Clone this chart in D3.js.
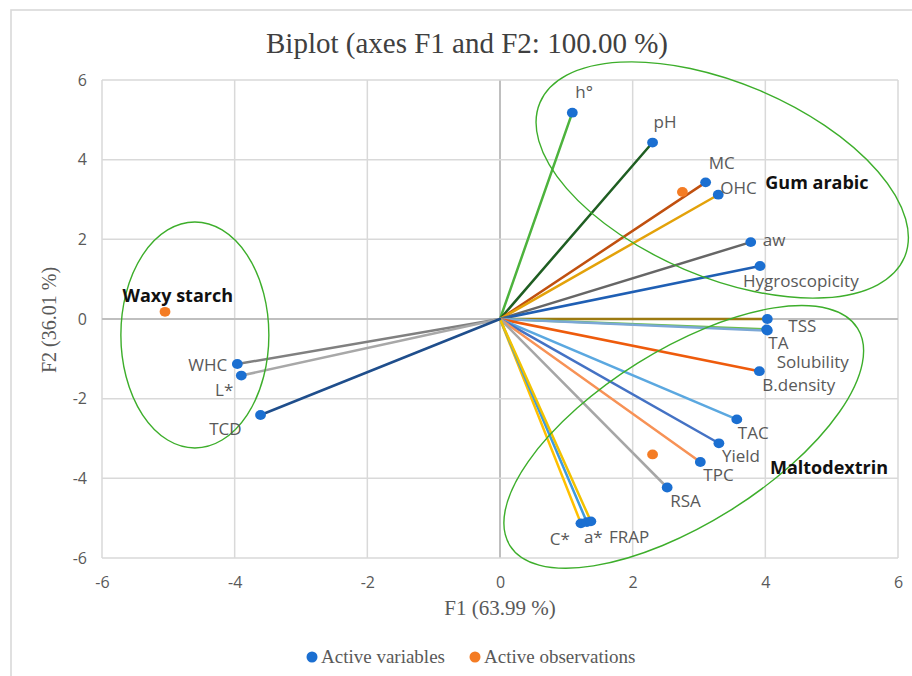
<!DOCTYPE html>
<html>
<head>
<meta charset="utf-8">
<script src="https://cdn.jsdelivr.net/npm/d3@7/dist/d3.min.js"></script>
<style>
  html, body { margin: 0; padding: 0; background: #fff; }
  svg { display: block; }
</style>
</head>
<body>
<svg id="chart" width="912" height="676"></svg>
<script>
// PCA biplot: variable loadings (F1, F2) drawn as vectors from the origin,
// observations (wall materials) drawn as points.
const variables = ["h°", "pH", "MC", "OHC", "aw", "Hygroscopicity", "TSS", "Solubility", "TA",
  "B.density", "TAC", "Yield", "TPC", "RSA", "C*", "a*", "FRAP", "WHC", "L*", "TCD"];
const varF1 = [1.09, 2.30, 3.10, 3.29, 3.78, 3.92, 4.03, 4.02, 4.03,
  3.91, 3.57, 3.30, 3.02, 2.52, 1.22, 1.31, 1.37, -3.96, -3.90, -3.61];
const varF2 = [5.18, 4.43, 3.43, 3.12, 1.93, 1.33, 0.00, -0.26, -0.29,
  -1.31, -2.52, -3.12, -3.59, -4.23, -5.13, -5.10, -5.08, -1.13, -1.42, -2.41];
const varColors = ["#4db33d", "#1f5e22", "#c0500f", "#e3a20a", "#666666", "#1f5fb4", "#9c7a12", "#6cbf4c", "#7ba7d6",
  "#ee5b0c", "#5ba8e0", "#4472c4", "#f79256", "#a6a6a6", "#ffc000", "#3e9ade", "#f2c200", "#808080", "#a8a8a8", "#1f4e8c"];

const observations = ["Gum arabic", "Waxy starch", "Maltodextrin"];
const obsF1 = [2.75, -5.05, 2.30];
const obsF2 = [3.19, 0.18, -3.40];

const xTicks = [-6, -4, -2, 0, 2, 4, 6];
const yTicks = [-6, -4, -2, 0, 2, 4, 6];
const legendItems = ["Active variables", "Active observations"];

// ---- layout and style settings ----
const W = 912, H = 676;
const plot = { left: 102, right: 898, top: 80, bottom: 558 };
const blue = "#1b6fd1", orange = "#f47c24", green = "#3dae2b", grey = "#595959";
const sans = "'Open Sans', Lato, sans-serif";
const serif = "'Liberation Serif', 'DejaVu Serif', serif";

// pixel offsets of each variable label from its point: [dx, dy, anchor]
const labelOffsets = {
  "h°": [3, -15, "start"], "pH": [1, -15, "start"], "MC": [3, -13, "start"], "OHC": [2, -1, "start"],
  "aw": [12, 4, "start"], "Hygroscopicity": [-17, 21, "start"], "TSS": [21, 13, "start"],
  "Solubility": [10, 39, "start"], "TA": [1, 18, "start"], "B.density": [3, 20, "start"],
  "TAC": [1, 20, "start"], "Yield": [3, 19, "start"], "TPC": [3, 19, "start"], "RSA": [3, 20, "start"],
  "C*": [-11, 22, "end"], "a*": [-3, 21, "start"], "FRAP": [18, 22, "start"],
  "WHC": [-10, 7, "end"], "L*": [-8, 20, "end"], "TCD": [-19, 20, "end"]
};

// group annotations: bold label anchor and enclosing ellipse (centre in data units)
const groupLabels = [
  { text: "Gum arabic", x: 4.0, y: 3.27 },
  { text: "Waxy starch", x: -5.69, y: 0.43 },
  { text: "Maltodextrin", x: 4.07, y: -3.89 }
];
const groupEllipses = [
  { cx: 3.35, cy: 3.49, rx: 198, ry: 97, angle: 23 },
  { cx: 2.77, cy: -2.96, rx: 205, ry: 87, angle: -32 },
  { cx: -4.60, cy: -0.40, rx: 74, ry: 113, angle: 0 }
];

const svg = d3.select("#chart");
svg.append("rect").attr("width", W).attr("height", H).attr("fill", "#fff");
// chart area frame
svg.append("rect").attr("x", 11).attr("y", 10).attr("width", W).attr("height", H + 10)
  .attr("fill", "none").attr("stroke", "#d9d9d9").attr("stroke-width", 1.6);

const x = d3.scaleLinear().domain([-6, 6]).range([plot.left, plot.right]);
const y = d3.scaleLinear().domain([-6, 6]).range([plot.bottom, plot.top]);

// title
svg.append("text").attr("x", 467).attr("y", 53).attr("text-anchor", "middle")
  .attr("font-family", serif).attr("font-size", 29).attr("fill", "#404040")
  .text("Biplot (axes F1 and F2: 100.00 %)");

// gridlines
const grid = svg.append("g");
grid.selectAll("line.v").data(xTicks).join("line").attr("class", "v")
  .attr("x1", d => x(d)).attr("x2", d => x(d)).attr("y1", plot.top).attr("y2", plot.bottom)
  .attr("stroke", d => d === 0 ? "#bfbfbf" : "#d9d9d9").attr("stroke-width", d => d === 0 ? 2 : 1.5);
grid.selectAll("line.h").data(yTicks).join("line").attr("class", "h")
  .attr("y1", d => y(d)).attr("y2", d => y(d)).attr("x1", plot.left).attr("x2", plot.right)
  .attr("stroke", d => d === 0 ? "#bfbfbf" : "#d9d9d9").attr("stroke-width", d => d === 0 ? 2 : 1.5);

// axes (labels only, lines come from the grid)
const tickFmt = d => String(d);
const xAxis = svg.append("g").attr("transform", `translate(0,${plot.bottom + 8})`)
  .call(d3.axisBottom(x).tickValues(xTicks).tickSize(0).tickPadding(11).tickFormat(tickFmt));
const yAxis = svg.append("g").attr("transform", `translate(${plot.left - 15},0)`)
  .call(d3.axisLeft(y).tickValues(yTicks).tickSize(0).tickPadding(0).tickFormat(tickFmt));
[xAxis, yAxis].forEach(a => {
  a.select(".domain").remove();
  a.selectAll("text").attr("font-family", sans).attr("font-size", 16).attr("fill", grey);
});

// axis titles
svg.append("text").attr("x", 500).attr("y", 615).attr("text-anchor", "middle")
  .attr("font-family", serif).attr("font-size", 21).attr("fill", grey).text("F1 (63.99 %)");
svg.append("text").attr("transform", "translate(56,320) rotate(-90)").attr("text-anchor", "middle")
  .attr("font-family", serif).attr("font-size", 20).attr("fill", grey).text("F2 (36.01 %)");

// variable vectors
const vars = variables.map((name, i) => ({ name, f1: varF1[i], f2: varF2[i], color: varColors[i] }));
svg.append("g").selectAll("line").data(vars).join("line")
  .attr("x1", x(0)).attr("y1", y(0))
  .attr("x2", d => x(d.f1)).attr("y2", d => y(d.f2))
  .attr("stroke", d => d.color).attr("stroke-width", 2.5).attr("stroke-linecap", "round");

// enclosing ellipses
svg.append("g").selectAll("ellipse").data(groupEllipses).join("ellipse")
  .attr("transform", d => `translate(${x(d.cx)},${y(d.cy)}) rotate(${d.angle})`)
  .attr("rx", d => d.rx).attr("ry", d => d.ry)
  .attr("fill", "none").attr("stroke", green).attr("stroke-width", 1.4);

// variable points
svg.append("g").selectAll("ellipse").data(vars).join("ellipse")
  .attr("cx", d => x(d.f1)).attr("cy", d => y(d.f2)).attr("rx", 5.4).attr("ry", 4.9)
  .attr("fill", blue);

// observation points
const obs = observations.map((name, i) => ({ name, f1: obsF1[i], f2: obsF2[i] }));
svg.append("g").selectAll("ellipse").data(obs).join("ellipse")
  .attr("cx", d => x(d.f1)).attr("cy", d => y(d.f2)).attr("rx", 5.4).attr("ry", 4.9)
  .attr("fill", orange);

// variable labels
svg.append("g").selectAll("text").data(vars).join("text")
  .attr("x", d => x(d.f1) + labelOffsets[d.name][0])
  .attr("y", d => y(d.f2) + labelOffsets[d.name][1])
  .attr("text-anchor", d => labelOffsets[d.name][2])
  .attr("font-family", sans).attr("font-size", 17).attr("fill", grey)
  .text(d => d.name);

// group labels
svg.append("g").selectAll("text").data(groupLabels).join("text")
  .attr("x", d => x(d.x)).attr("y", d => y(d.y))
  .attr("font-family", sans).attr("font-size", 18).attr("font-weight", "bold").attr("fill", "#111")
  .text(d => d.text);

// legend
const legend = svg.append("g");
const legendX = [312, 475];
const legendColors = [blue, orange];
legendItems.forEach((t, i) => {
  legend.append("circle").attr("cx", legendX[i]).attr("cy", 657).attr("r", 5.5).attr("fill", legendColors[i]);
  legend.append("text").attr("x", legendX[i] + 9).attr("y", 663)
    .attr("font-family", serif).attr("font-size", 19).attr("fill", grey).text(t);
});
</script>
</body>
</html>
